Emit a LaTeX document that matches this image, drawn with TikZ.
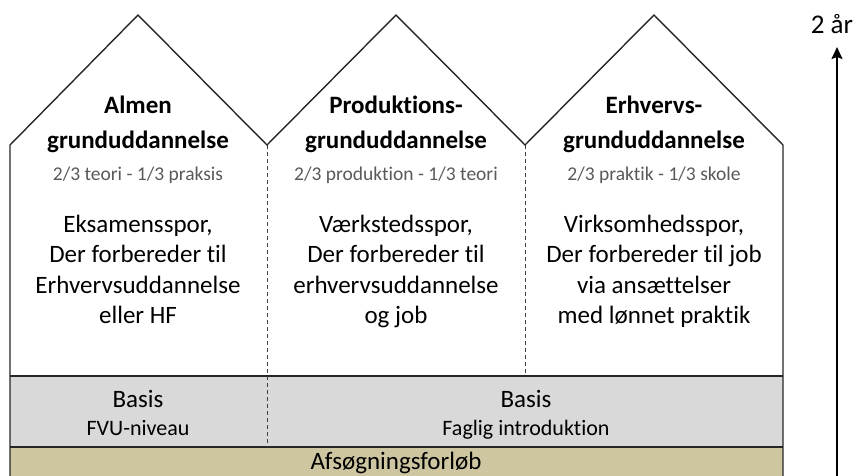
\documentclass[tikz,border=0pt]{standalone}
\usepackage{fontspec}
\setmainfont{Carlito}[RawFeature=-liga]
\usetikzlibrary{arrows.meta}
\definecolor{bandgray}{RGB}{217,217,217}
\definecolor{khaki}{RGB}{205,198,160}
\definecolor{subgray}{RGB}{89,89,89}
\begin{document}
\begin{tikzpicture}[x=1pt,y=-1pt,
  outline/.style={draw=black!85,line width=1.4pt,line join=miter},
  band/.style={draw=black!85,line width=1.8pt},
  divider/.style={draw=black!75,line width=1pt,dash pattern=on 4pt off 3pt},
  title/.style={anchor=base,inner sep=0pt,font=\fontsize{25}{30}\selectfont\bfseries},
  sub/.style={anchor=base,inner sep=0pt,text=subgray,font=\fontsize{19.5}{23}\selectfont},
  body/.style={anchor=base,inner sep=0pt,font=\fontsize{25}{30}\selectfont},
  small/.style={anchor=base,inner sep=0pt,font=\fontsize{22}{26}\selectfont}]
\useasboundingbox (0,0) rectangle (857,475);
\clip (0,0) rectangle (857,475);
% bands
\fill[bandgray] (10,376) rectangle (783,447);
\fill[khaki] (10,447) rectangle (783,480);
\draw[band] (10,376) -- (783,376);
\draw[band] (10,447) -- (783,447);
% dividers
\coordinate (v1) at (267,145);
\coordinate (v2) at (525,145);
\coordinate (v1b) at (267,447);
\coordinate (v2b) at (525,376);
\draw[divider] (v1) -- (v1b);
\draw[divider] (v2) -- (v2b);
% houses outline
\draw[outline] (10,480) -- (10,145) -- (138,15) -- (v1) -- (396,15) -- (v2) -- (654,15) -- (783,145) -- (783,480);
% house 1
\node[title] (t1a) at (138,113) {Almen};
\node[title] (t1b) at (138,148) {grunduddannelse};
\node[sub] (s1) at (138,180) {2/3 teori - 1/3 praksis};
\node[body] (b1a) at (138,232) {Eksamensspor,};
\node[body] (b1b) at (138,262) {Der forbereder til};
\node[body] (b1c) at (138,293) {Erhvervsuddannelse};
\node[body] (b1d) at (138,323) {eller HF};
% house 2
\node[title] (t2a) at (396,113) {Produktions-};
\node[title] (t2b) at (396,148) {grunduddannelse};
\node[sub] (s2) at (396,180) {2/3 produktion - 1/3 teori};
\node[body] (b2a) at (396,232) {Værkstedsspor,};
\node[body] (b2b) at (396,262) {Der forbereder til};
\node[body] (b2c) at (396,293) {erhvervsuddannelse};
\node[body] (b2d) at (396,323) {og job};
% house 3
\node[title] (t3a) at (654,113) {Erhvervs-};
\node[title] (t3b) at (654,148) {grunduddannelse};
\node[sub] (s3) at (654,180) {2/3 praktik - 1/3 skole};
\node[body] (b3a) at (654,232) {Virksomhedsspor,};
\node[body] (b3b) at (654,262) {Der forbereder til job};
\node[body] (b3c) at (654,293) {via ansættelser};
\node[body] (b3d) at (654,323) {med lønnet praktik};
% basis
\node[body] (ba1) at (138,407) {Basis};
\node[small] (bs1) at (138,435) {FVU-niveau};
\node[body] (ba2) at (526,407) {Basis};
\node[small] (bs2) at (526,435) {Faglig introduktion};
\node[body] (af) at (396,469) {Afsøgningsforløb};
% arrow
\node[body,font=\fontsize{27}{32}\selectfont] (yr) at (832,33) {2 år};
\coordinate (abot) at (837,480);
\draw[line width=1.8pt,-{Stealth[length=12pt,width=11pt,inset=2pt]}] (abot) -- (837,47);
\end{tikzpicture}
\end{document}
